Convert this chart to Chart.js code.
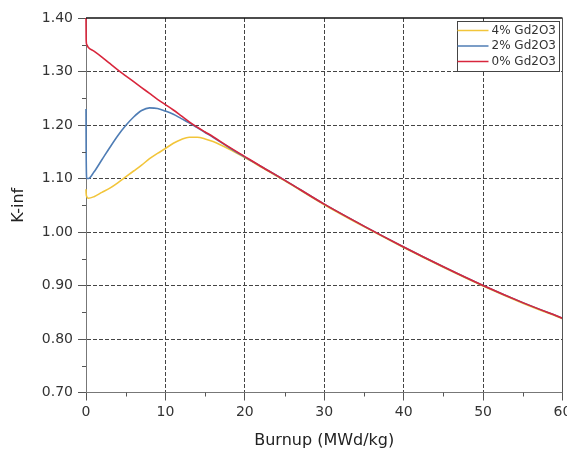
<!DOCTYPE html>
<html>
<head>
<title>K-inf vs Burnup</title>
<script src="https://cdn.jsdelivr.net/npm/chart.js"></script>
<style>
  html, body { margin:0; padding:0; background:#fff; }
  #wrap { width:567px; height:452px; position:relative; }
</style>
</head>
<body>
<div id="wrap"><canvas id="kinf"></canvas></div>
<script>
// burnup points (MWd/kg) and k-inf for each Gd2O3 loading
const burnup = [0, 0.02, 0.1, 0.3, 1, 2, 3, 4, 5, 6, 7, 8, 9, 10, 11, 12, 13, 14, 15, 16, 18, 20, 22, 25, 30, 35, 40, 45, 50, 55, 60];
const gd4 = [1.080, 1.072, 1.066, 1.063, 1.066, 1.074, 1.082, 1.092, 1.103, 1.114, 1.125, 1.137, 1.147, 1.156, 1.166, 1.173, 1.177, 1.177, 1.174, 1.169, 1.155, 1.139, 1.122, 1.096, 1.051, 1.010, 0.971, 0.934, 0.899, 0.867, 0.838];
const gd2 = [1.230, 1.150, 1.100, 1.100, 1.112, 1.135, 1.158, 1.180, 1.199, 1.215, 1.227, 1.232, 1.231, 1.226, 1.220, 1.212, 1.204, 1.195, 1.186, 1.177, 1.158, 1.140, 1.123, 1.097, 1.052, 1.011, 0.972, 0.935, 0.900, 0.868, 0.839];
const gd0 = [1.400, 1.360, 1.350, 1.345, 1.338, 1.327, 1.315, 1.303, 1.292, 1.281, 1.270, 1.259, 1.248, 1.238, 1.228, 1.217, 1.206, 1.196, 1.187, 1.178, 1.159, 1.141, 1.123, 1.097, 1.052, 1.011, 0.972, 0.935, 0.900, 0.868, 0.839];
const seriesNames = ['4% Gd2O3', '2% Gd2O3', '0% Gd2O3'];
const seriesColors = ['#f2c53a', '#4f7db5', '#d8263c'];

const font = 'DejaVu Sans';
const toPoints = ys => burnup.map((x, i) => ({x: x, y: ys[i]}));

// minor ticks, top/right frame and the boxed legend
const framePlugin = {
  id: 'frame',
  afterDraw(chart) {
    const {ctx, chartArea: a, scales: {x, y}} = chart;
    ctx.save();
    ctx.lineWidth = 1;
    ctx.strokeStyle = '#555';
    ctx.beginPath();
    for (let v = 5; v < 60; v += 10) {
      const px = Math.round(x.getPixelForValue(v)) + 0.5;
      ctx.moveTo(px, a.bottom); ctx.lineTo(px, a.bottom + 4);
    }
    for (let v = 0.75; v < 1.4; v += 0.1) {
      const py = Math.round(y.getPixelForValue(v)) + 0.5;
      ctx.moveTo(a.left - 4, py); ctx.lineTo(a.left, py);
    }
    ctx.stroke();

    ctx.strokeStyle = '#111';
    ctx.lineWidth = 1.5;
    ctx.beginPath();
    ctx.moveTo(a.left, a.top); ctx.lineTo(a.right, a.top);
    ctx.stroke();
    ctx.strokeStyle = '#555';
    ctx.lineWidth = 1;
    ctx.beginPath();
    ctx.moveTo(a.right, a.top); ctx.lineTo(a.right, a.bottom);
    ctx.stroke();

    // legend
    const bx = a.right - 106, by = a.top + 3, bw = 102, bh = 50;
    ctx.fillStyle = '#fff';
    ctx.fillRect(bx, by, bw, bh);
    ctx.strokeStyle = '#444';
    ctx.strokeRect(Math.round(bx) + 0.5, Math.round(by) + 0.5, bw, bh);
    ctx.font = '12px ' + font;
    ctx.textBaseline = 'middle';
    ctx.fillStyle = '#333';
    chart.data.datasets.forEach((ds, i) => {
      const ly = by + 9.5 + i * 15.5;
      ctx.strokeStyle = ds.borderColor;
      ctx.lineWidth = 1.5;
      ctx.beginPath();
      ctx.moveTo(bx + 1, ly); ctx.lineTo(bx + 32, ly);
      ctx.stroke();
      ctx.fillText(ds.label, bx + 35, ly);
    });
    ctx.restore();
  }
};

const edgeHidden = (min, max, col) => c => (c.tick && (Math.abs(c.tick.value - min) < 1e-9 || Math.abs(c.tick.value - max) < 1e-9)) ? 'rgba(0,0,0,0)' : col;

new Chart(document.getElementById('kinf'), {
  type: 'scatter',
  data: {
    datasets: [gd4, gd2, gd0].map((ys, i) => ({
      label: seriesNames[i],
      data: toPoints(ys),
      borderColor: seriesColors[i],
      backgroundColor: seriesColors[i],
      showLine: true,
      pointRadius: 0,
      borderWidth: 1.6,
      cubicInterpolationMode: 'monotone',
      order: 2 - i,
      clip: 4
    }))
  },
  options: {
    responsive: true,
    maintainAspectRatio: false,
    animation: false,
    layout: { padding: { top: 18, right: 4.5, left: 0, bottom: 0 } },
    plugins: { legend: { display: false }, tooltip: { enabled: false } },
    scales: {
      x: {
        type: 'linear', min: 0, max: 60,
        ticks: { stepSize: 10, color: '#333', font: { family: font, size: 14 }, padding: 3, maxRotation: 0 },
        grid: { color: edgeHidden(0, 60, '#444'), tickColor: '#555', tickLength: 8, lineWidth: 1 },
        border: { color: '#777', width: 1, dash: [4, 2] },
        title: { display: true, text: 'Burnup (MWd/kg)', color: '#222', font: { family: font, size: 16 }, padding: { top: 0, bottom: 2 } },
        afterFit(s) { s.height = 59.5; s.paddingLeft = 0; s.paddingRight = 0; }
      },
      y: {
        type: 'linear', min: 0.7, max: 1.4,
        ticks: { stepSize: 0.1, color: '#333', font: { family: font, size: 14 }, padding: 5, callback: v => v.toFixed(2) },
        grid: { color: edgeHidden(0.7, 1.4, '#444'), tickColor: '#555', tickLength: 8, lineWidth: 1 },
        border: { color: '#777', width: 1, dash: [4, 2] },
        title: { display: true, text: 'K-inf', color: '#222', font: { family: font, size: 16 }, padding: { top: 9, bottom: 0 } },
        afterFit(s) { s.width = 86; s.paddingTop = 0; s.paddingBottom = 0; }
      }
    }
  },
  plugins: [framePlugin]
});
</script>
</body>
</html>
